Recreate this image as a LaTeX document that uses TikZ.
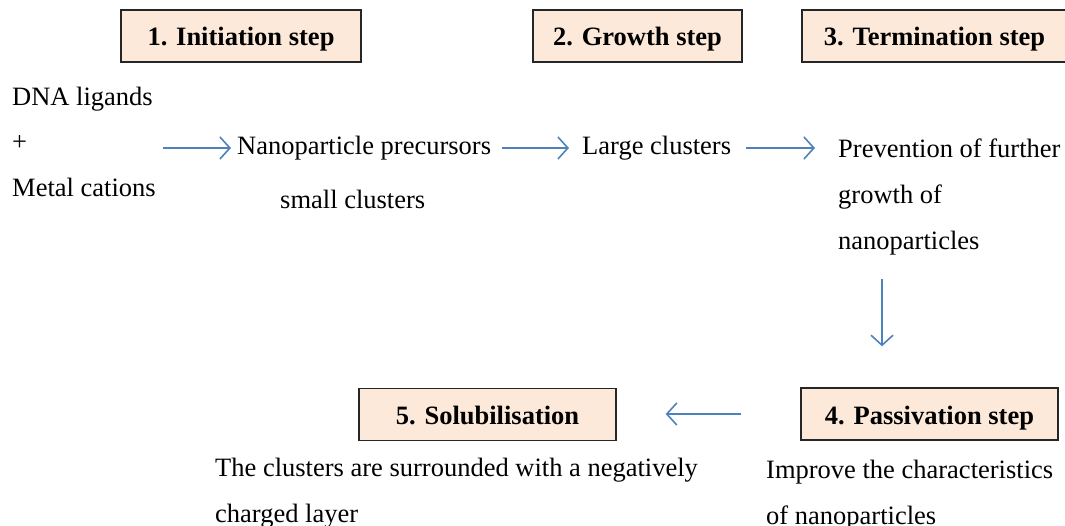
\documentclass[tikz,border=0pt]{standalone}
\usepackage{fontspec}
\setmainfont{Liberation Serif}
\usetikzlibrary{positioning,arrows.meta}
\definecolor{boxfill}{HTML}{FDE9D9}
\definecolor{flowblue}{HTML}{4F81BD}
\tikzset{
  stepbox/.style={draw=black!85, line width=1.4pt, fill=boxfill, minimum height=52pt, inner sep=0pt,
    text height=20pt, text depth=0pt, font=\fontsize{26.5}{30}\selectfont\bfseries},
  txt/.style={inner xsep=6pt, inner ysep=0pt, anchor=base west, font=\fontsize{26.5}{30}\selectfont},
  flow/.style={draw=flowblue, line width=1.6pt, -{Straight Barb[length=10pt,width=22pt,line width=1.6pt]}}
}
\begin{document}
\begin{tikzpicture}[x=1pt,y=-1pt]
\useasboundingbox (0,0) rectangle (1065,526);
% step boxes
\node[stepbox, minimum width=240pt] (init) at (241,36) {1. Initiation step};
\node[stepbox, minimum width=209pt] (grow) at (637.5,36) {2. Growth step};
\node[stepbox, minimum width=265pt] (term) at (934.5,36) {3. Termination step};
\node[stepbox, minimum width=257pt] (pass) at (929.5,414) {4. Passivation step};
\node[stepbox, minimum width=257pt] (solu) at (487.5,414.5) {5. Solubilisation};
% texts
\node[txt] (dna) at (6,106) {DNA ligands};
\node[txt] (plus) at (6,151) {+};
\node[txt] (metal) at (6,197) {Metal cations};
\node[txt] (nano) at (231,155) {Nanoparticle precursors};
\node[txt] (small) at (274,209) {small clusters};
\node[txt] (large) at (576,155) {Large clusters};
\node[txt] (prev1) at (832,158) {Prevention of further};
\node[txt] (prev2) at (832,204) {growth of};
\node[txt] (prev3) at (832,250) {nanoparticles};
\node[txt] (impr1) at (760,478) {Improve the characteristics};
\node[txt] (impr2) at (760,524) {of nanoparticles};
\node[txt] (surr1) at (209,476) {The clusters are surrounded with a negatively};
\node[txt] (surr2) at (209,522) {charged layer};
% arrows
\coordinate (start) at (163,148);
\draw[flow] (start) -- (start -| nano.west);
\draw[flow] ([xshift=5pt]nano.east |- start) -- ([xshift=-7pt]large.west |- start);
\draw[flow] ([xshift=9pt]large.east |- start) -- ([xshift=-17pt]prev1.west |- start);
\draw[flow] (pass.north -| 882,0) ++(0,-108) -- ([yshift=41pt]pass.north -| 882,0);
\draw[flow] ([xshift=-59pt]pass.west) -- ([xshift=49pt]solu.east |- pass.west);
\end{tikzpicture}
\end{document}
